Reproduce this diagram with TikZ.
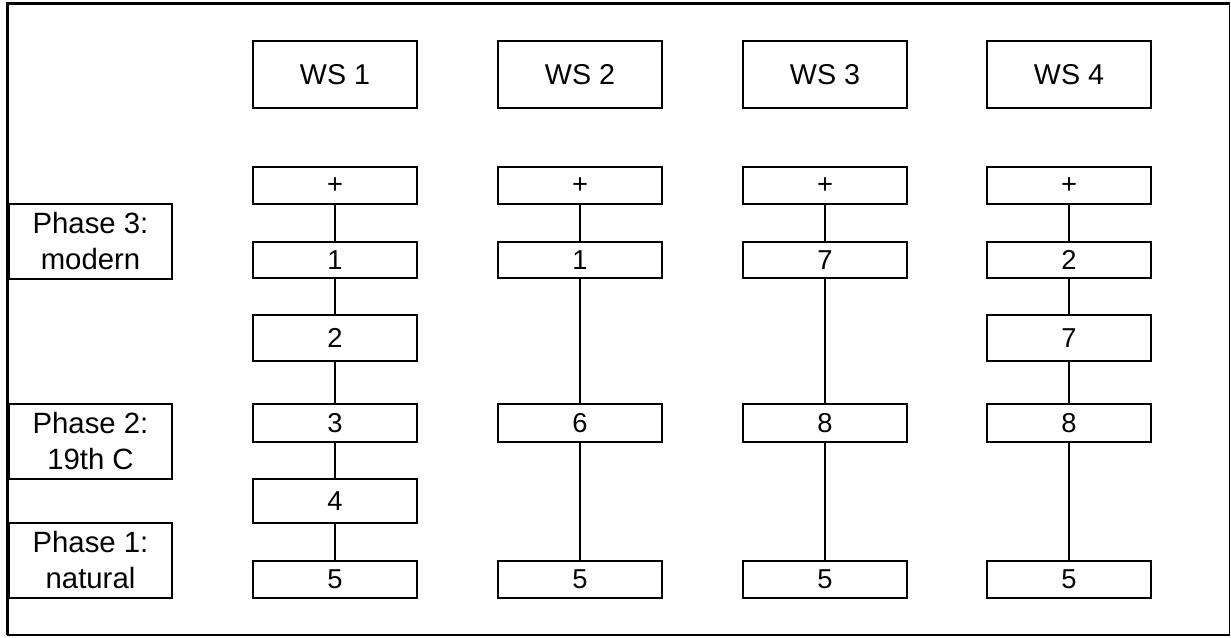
\documentclass[tikz,border=0pt]{standalone}
\usepackage{fontspec}
\setmainfont{Liberation Sans}
\begin{document}
\begin{tikzpicture}[x=0.75pt, y=-0.75pt,
  box/.style={draw, line width=1.1pt, inner sep=0pt, minimum width=123pt,
    font=\fontsize{20.5}{24}\selectfont},
  head/.style={box, minimum height=50.25pt, font=\fontsize{21.5}{25}\selectfont},
  phase/.style={draw, line width=1.1pt, inner sep=0pt, minimum width=122.25pt,
    minimum height=56.25pt, align=center, font=\fontsize{22}{27}\selectfont},
  link/.style={line width=1.1pt}]
\useasboundingbox (0,0) rectangle (1231,637);
% outer frame
\draw[line width=1.1pt] (7.5,3.5) rectangle (1229.5,635);
\draw[line width=2.4pt] (7.5,635) -- (7.5,3.5) -- (1229.5,3.5);

% phase labels
\node[phase] (p3) at (90.5,241.5) {Phase 3:\\modern};
\node[phase] (p2) at (90.5,441.5) {Phase 2:\\19th C};
\node[phase] (p1) at (90.5,560.5) {Phase 1:\\natural};

% column headings
\node[head] (h1) at (335,74.5) {WS 1};
\node[head] (h2) at (580,74.5) {WS 2};
\node[head] (h3) at (825,74.5) {WS 3};
\node[head] (h4) at (1069,74.5) {WS 4};

% WS 1
\node[box, minimum height=27.75pt] (a0) at (335,185.5) {+};
\node[box, minimum height=27pt]    (a1) at (335,260) {1};
\node[box, minimum height=34.5pt]  (a2) at (335,338) {2};
\node[box, minimum height=28.5pt]  (a3) at (335,423) {3};
\node[box, minimum height=33pt]    (a4) at (335,501) {4};
\node[box, minimum height=27.75pt] (a5) at (335,579.5) {5};

% WS 2
\node[box, minimum height=27.75pt] (b0) at (580,185.5) {+};
\node[box, minimum height=27pt]    (b1) at (580,260) {1};
\node[box, minimum height=28.5pt]  (b6) at (580,423) {6};
\node[box, minimum height=27.75pt] (b5) at (580,579.5) {5};

% WS 3
\node[box, minimum height=27.75pt] (c0) at (825,185.5) {+};
\node[box, minimum height=27pt]    (c7) at (825,260) {7};
\node[box, minimum height=28.5pt]  (c8) at (825,423) {8};
\node[box, minimum height=27.75pt] (c5) at (825,579.5) {5};

% WS 4
\node[box, minimum height=27.75pt] (d0) at (1069,185.5) {+};
\node[box, minimum height=27pt]    (d2) at (1069,260) {2};
\node[box, minimum height=34.5pt]  (d7) at (1069,338) {7};
\node[box, minimum height=28.5pt]  (d8) at (1069,423) {8};
\node[box, minimum height=27.75pt] (d5) at (1069,579.5) {5};

% sequences
\draw[link] (a0) -- (a1) -- (a2) -- (a3) -- (a4) -- (a5);
\draw[link] (b0) -- (b1) -- (b6) -- (b5);
\draw[link] (c0) -- (c7) -- (c8) -- (c5);
\draw[link] (d0) -- (d2) -- (d7) -- (d8) -- (d5);
\end{tikzpicture}
\end{document}
